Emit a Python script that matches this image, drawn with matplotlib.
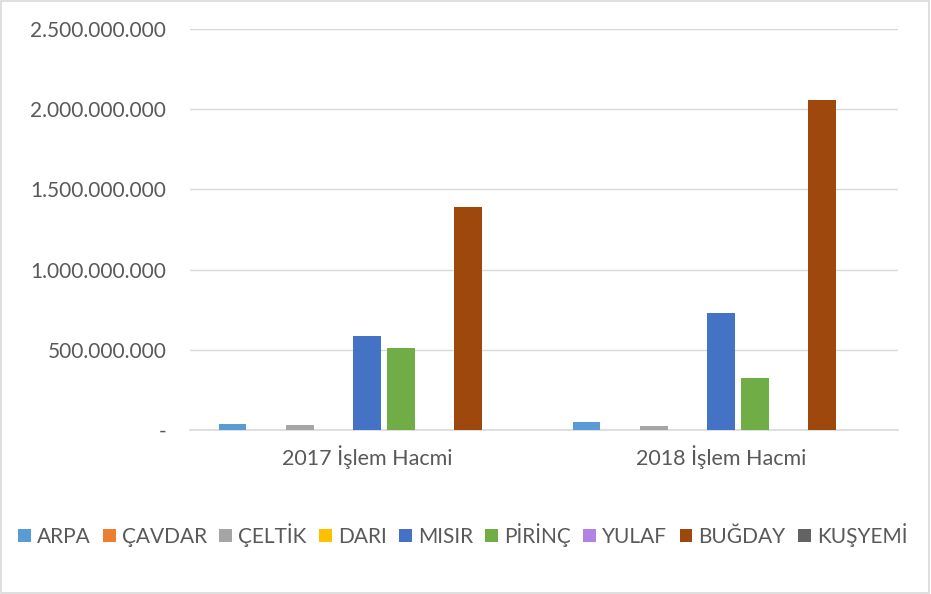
import matplotlib.pyplot as plt
import numpy as np
from matplotlib.ticker import FuncFormatter
from matplotlib.patches import Rectangle

groups = ["2017 İşlem Hacmi", "2018 İşlem Hacmi"]
series = ["ARPA", "ÇAVDAR", "ÇELTİK", "DARI", "MISIR", "PİRİNÇ", "YULAF", "BUĞDAY", "KUŞYEMİ"]
colors = ["#5B9BD5", "#ED7D31", "#A5A5A5", "#FFC000", "#4472C4", "#70AD47", "#B283E0", "#9E480E", "#636363"]
values_2017 = [37e6, 1e6, 31e6, 0, 586e6, 511e6, 0, 1390e6, 3e6]
values_2018 = [50e6, 3e6, 25e6, 0, 729e6, 324e6, 0, 2057e6, 0.5e6]

plt.rcParams["font.family"] = ["Lato", "DejaVu Sans"]
text_color = "#595959"

fig = plt.figure(figsize=(9.31, 5.94), dpi=100)
fig.patches.append(Rectangle((0.001, 0.001), 0.997, 0.997, transform=fig.transFigure,
                             fill=False, edgecolor="#D9D9D9", linewidth=1.2))
ax = fig.add_axes([0.204, 0.276, 0.761, 0.675])

x = np.arange(len(groups))
step = 0.095
width = 0.078
data = np.array([values_2017, values_2018])
for i, (name, c) in enumerate(zip(series, colors)):
    offs = (i - (len(series) - 1) / 2) * step
    ax.bar(x + offs, data[:, i], width=width, color=c, label=name, zorder=3)

ax.set_xlim(-0.5, 1.5)
ax.set_ylim(0, 2.5e9)
ax.set_yticks(np.arange(0, 2.51e9, 5e8))


def fmt(v, pos):
    if v == 0:
        return "-"
    return f"{int(v):,}".replace(",", ".")


ax.yaxis.set_major_formatter(FuncFormatter(fmt))
ax.set_xticks(x)
ax.set_xticklabels(groups)
ax.grid(axis="y", color="#D9D9D9", linewidth=1, zorder=0)
for s in ["top", "right", "left"]:
    ax.spines[s].set_visible(False)
ax.spines["bottom"].set_color("#D9D9D9")
ax.spines["bottom"].set_linewidth(1.2)
ax.tick_params(axis="both", length=0, labelsize=15.5, colors=text_color)
ax.tick_params(axis="y", labelsize=15, pad=17)
ax.tick_params(axis="x", pad=11)

fig.legend(loc="center", bbox_to_anchor=(0.497, 0.1), ncol=9, frameon=False,
           fontsize=15, handlelength=0.6, handleheight=0.6, handletextpad=0.3,
           columnspacing=0.6, labelcolor=text_color)

fig.savefig("out.png", dpi=100)
